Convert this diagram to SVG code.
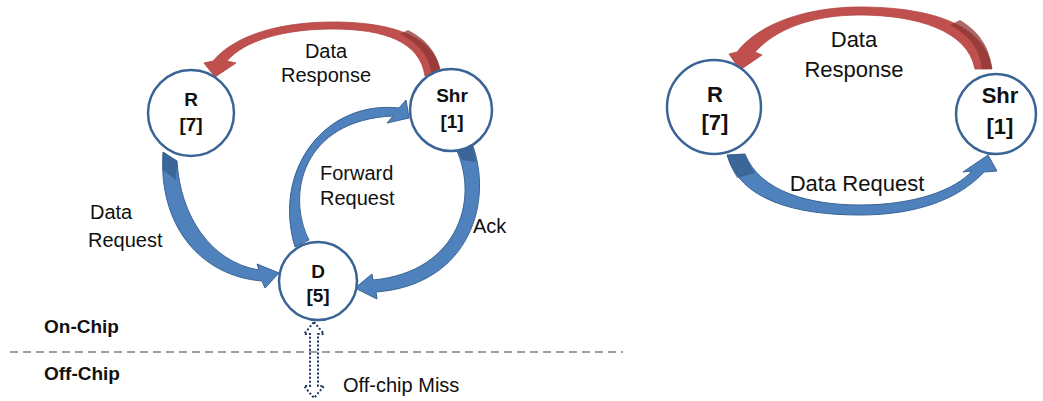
<svg xmlns="http://www.w3.org/2000/svg" width="1043" height="401" viewBox="0 0 1043 401">
<style>
.node{fill:#fff;stroke:#3A6496;stroke-width:2.5}
.nl{font-family:"Liberation Sans",Arial,sans-serif;font-weight:bold;font-size:19px;fill:#111;text-anchor:middle}
.lbl{font-family:"Liberation Sans",Arial,sans-serif;font-size:20px;fill:#111}
.lblc{font-family:"Liberation Sans",Arial,sans-serif;font-size:20px;fill:#111;text-anchor:middle}
.big{font-size:22px}
.bold{font-family:"Liberation Sans",Arial,sans-serif;font-weight:bold;font-size:19px;fill:#111}
.red{fill:#C0504D;stroke:#B04543;stroke-width:0.8}
.redd{fill:#8E3533;opacity:0.75}
.blue{fill:#4F81BD;stroke:#3A6496;stroke-width:1}
.blued{fill:#2F5580;opacity:0.6}
</style>
<rect width="1043" height="401" fill="#fff"/>
<g id="connectors">
  <!-- left: Data Response (Shr -> R) -->
  <path class="red" d="M425,76 C420,42 385,29 333,29 C285,29 245,40 227,61 L236,63 L215,77 L204,63 L213,61 C235,35 280,22 333,22 C395,22 438,38 441,76 Z"/>
  <path class="redd" d="M432,76 C430,58 420,44 400,34 L408,30 C428,40 439,55 441,76 Z"/>
  <!-- left: Data Request (R -> D) -->
  <path class="blue" d="M177,161 C180,215 210,262 259,270 L257,264 L279,273 L265,288 L262,281 C200,276 158,225 163,152 Z"/>
  <path class="blued" d="M163,152 L177,161 C177,170 176,175 176,180 L163,170 Z"/>
  <!-- left: Forward Request (D -> Shr) -->
  <path class="blue" d="M309,240 C286,195 302,120 393,116 L387,123 L409,118 L406,100 L399,108 C325,100 272,170 295,247 Z"/>
  <!-- left: Ack (Shr -> D) -->
  <path class="blue" d="M453,143 C482,195 460,272 373,280 L372,274 L355,288 L377,299 L376,292 C470,285 495,200 471,141 Z"/>
  <path class="blued" d="M453,143 L471,141 C474,150 475,156 476,162 L462,160 Z"/>
  <!-- off-chip miss -->
  <path d="M314,322 L324,334 L318,334 L318,386 L324,386 L314,398 L304,386 L310,386 L310,334 L304,334 Z" fill="none" stroke="#1F3864" stroke-width="2" stroke-dasharray="2,2"/>
  <!-- right: Data Response -->
  <path class="red" d="M975,69 C968,30 915,15 860,15 C810,15 775,30 755,52 L762,55 L740,70 L729,54 L737,52 C760,22 810,7 860,7 C925,7 985,22 992,69 Z"/>
  <path class="redd" d="M982,69 C980,50 970,36 950,25 L960,20 C980,32 990,48 992,69 Z"/>
  <!-- right: Data Request -->
  <path class="blue" d="M745,154 C760,192 810,205 860,205 C915,205 955,190 972,171 L963,172 L988,155 L997,171 L984,172 C958,200 915,215 860,215 C795,215 740,200 727,155 Z"/>
  <path class="blued" d="M727,155 L745,154 C748,162 751,167 755,173 L737,178 C732,170 729,162 727,155 Z"/>
</g>
<line x1="10" y1="352" x2="623" y2="352" stroke="#808080" stroke-width="1.5" stroke-dasharray="8,5"/>
<g id="node-R-left">
  <circle class="node" cx="191" cy="113" r="43"/>
  <text class="nl" x="191" y="106">R</text>
  <text class="nl" x="191" y="131">[7]</text>
</g>
<g id="node-Shr-left">
  <circle class="node" cx="451" cy="110" r="41"/>
  <text class="nl" x="452" y="102">Shr</text>
  <text class="nl" x="452" y="128">[1]</text>
</g>
<g id="node-D">
  <circle class="node" cx="318" cy="281" r="39"/>
  <text class="nl" x="318" y="278">D</text>
  <text class="nl" x="318" y="302">[5]</text>
</g>
<g id="node-R-right">
  <circle class="node" cx="714" cy="107" r="47"/>
  <text class="nl big" x="715" y="102">R</text>
  <text class="nl big" x="715" y="130">[7]</text>
</g>
<g id="node-Shr-right">
  <circle class="node" cx="996" cy="114" r="40"/>
  <text class="nl big" x="1000" y="103">Shr</text>
  <text class="nl big" x="1000" y="134">[1]</text>
</g>
<g id="labels">
  <text class="lblc" x="326" y="58">Data</text>
  <text class="lblc" x="326" y="82">Response</text>
  <text class="lbl" x="320" y="180">Forward</text>
  <text class="lbl" x="320" y="205">Request</text>
  <text class="lbl" x="473" y="233">Ack</text>
  <text class="lbl" x="90" y="219">Data</text>
  <text class="lbl" x="88" y="247">Request</text>
  <text class="bold" x="44" y="333">On-Chip</text>
  <text class="bold" x="44" y="380">Off-Chip</text>
  <text class="lbl" x="343" y="392">Off-chip Miss</text>
  <text class="lblc big" x="854" y="47">Data</text>
  <text class="lblc big" x="854" y="77">Response</text>
  <text class="lblc big" x="857" y="191">Data Request</text>
</g>
</svg>
